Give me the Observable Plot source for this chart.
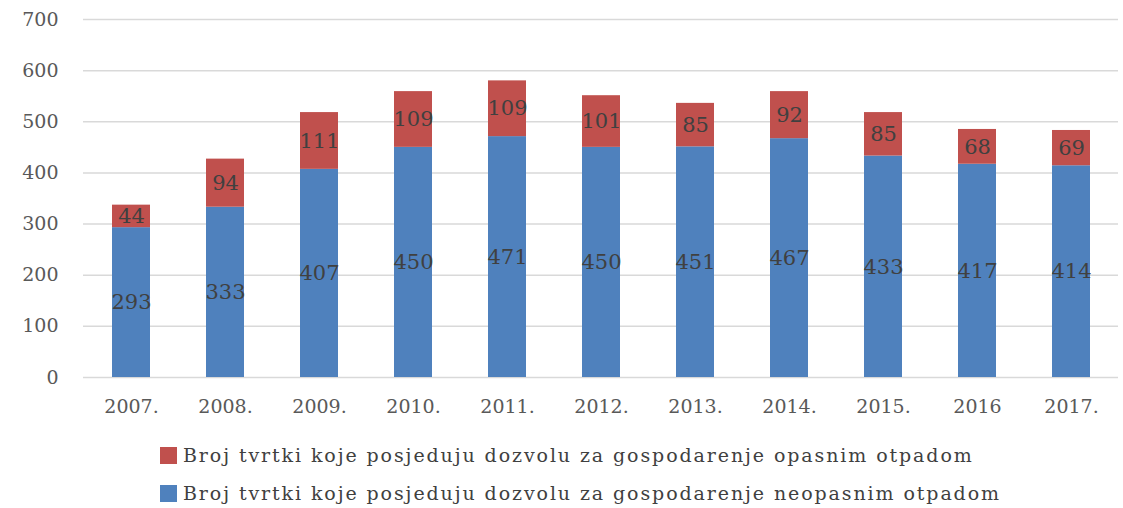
<!DOCTYPE html>
<html>
<head>
<meta charset="utf-8">
<script src="https://cdn.jsdelivr.net/npm/d3@7"></script>
<script src="https://cdn.jsdelivr.net/npm/@observablehq/plot@0.6"></script>
<style>
  html, body { margin: 0; padding: 0; background: #fff; }
  #chart { width: 1123px; }
  .legend { position: relative; height: 78px; font-family: "DejaVu Serif", serif; font-size: 19px; color: #404040; }
  .item { position: absolute; left: 160px; display: flex; align-items: center; white-space: nowrap; letter-spacing: 1.9px; }
  .sw { width: 17px; height: 17px; margin-right: 6px; }
</style>
</head>
<body>
<div id="chart"></div>
<script>
const years = ["2007.", "2008.", "2009.", "2010.", "2011.", "2012.", "2013.", "2014.", "2015.", "2016", "2017."];
const neopasni = [293, 333, 407, 450, 471, 450, 451, 467, 433, 417, 414];
const opasni = [44, 94, 111, 109, 109, 101, 85, 92, 85, 68, 69];
const seriesNames = [
  "Broj tvrtki koje posjeduju dozvolu za gospodarenje neopasnim otpadom",
  "Broj tvrtki koje posjeduju dozvolu za gospodarenje opasnim otpadom"
];
const seriesColors = ["#4f81bd", "#c0504d"];
const yTicks = [0, 100, 200, 300, 400, 500, 600, 700];

const data = [];
years.forEach((y, i) => {
  data.push({year: y, series: seriesNames[0], value: neopasni[i]});
  data.push({year: y, series: seriesNames[1], value: opasni[i]});
});

const chart = Plot.plot({
  width: 1123,
  height: 430,
  marginTop: 19,
  marginBottom: 53,
  marginLeft: 83,
  marginRight: 5,
  style: {fontFamily: "DejaVu Serif, serif", fontSize: "19px", color: "#595959", background: "#fff"},
  x: {domain: years, paddingInner: 0.6, paddingOuter: 0.3, label: null, tickSize: 0, tickPadding: 22},
  y: {domain: [0, 700], ticks: yTicks, label: null, tickSize: 0, tickPadding: 25, grid: false},
  color: {domain: seriesNames, range: seriesColors},
  marks: [
    Plot.ruleY(yTicks, {stroke: "#d9d9d9", strokeWidth: 1.5, strokeOpacity: 1}),
    Plot.barY(data, Plot.stackY({x: "year", y: "value", fill: "series", order: null})),
    Plot.text(data, Plot.stackY({x: "year", y: "value", z: "series", order: null, text: d => String(d.value), fill: "#404040", fontSize: 21, fontFamily: "DejaVu Serif, serif"}))
  ]
});
document.getElementById("chart").appendChild(chart);

const legend = document.createElement("div");
legend.className = "legend";
[[1, 26], [0, 64]].forEach(([k, top]) => {
  const it = document.createElement("div");
  it.className = "item";
  it.style.top = (top - 12) + "px";
  const sw = document.createElement("span");
  sw.className = "sw";
  sw.style.background = seriesColors[k];
  const t = document.createElement("span");
  t.textContent = seriesNames[k];
  it.appendChild(sw);
  it.appendChild(t);
  legend.appendChild(it);
});
document.getElementById("chart").appendChild(legend);
</script>
</body>
</html>
